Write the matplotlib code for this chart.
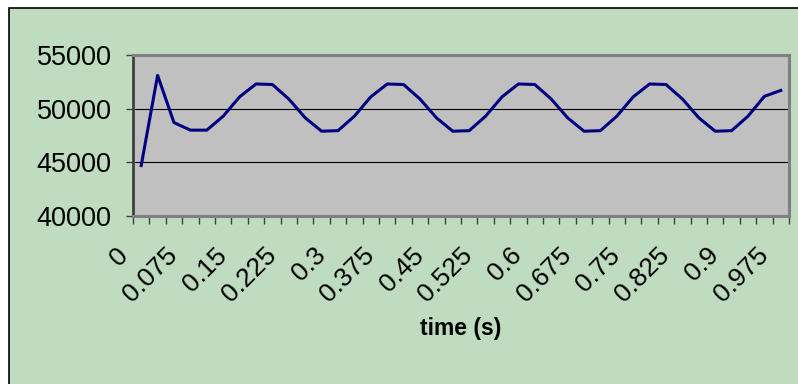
import matplotlib
matplotlib.use('Agg')
import matplotlib.pyplot as plt
import matplotlib.transforms as mtransforms
from matplotlib.patches import Rectangle
import numpy as np

plt.rcParams['font.family'] = ['Liberation Sans', 'DejaVu Sans']

# time categories (s), 0.025 step
time_labels = ['0', '0.075', '0.15', '0.225', '0.3', '0.375', '0.45', '0.525', '0.6',
               '0.675', '0.75', '0.825', '0.9', '0.975']
n_points = 40
values = [44700, 53100, 48700, 48000, 48000, 49300, 51100, 52300, 52250, 50900,
          49150, 47900, 47950, 49300, 51100, 52300, 52250, 50900, 49150, 47900,
          47950, 49300, 51100, 52300, 52250, 50900, 49150, 47900, 47950, 49300,
          51100, 52300, 52250, 50900, 49150, 47900, 47950, 49300, 51150, 51700]
y_ticks = [40000, 45000, 50000, 55000]

dpi = 100
fig = plt.figure(figsize=(7.98, 3.84), dpi=dpi)
fig.patch.set_facecolor('white')

# green chart area with black border
fig.patches.append(Rectangle((9 / 798, -0.05), 1.1, 1 - 8 / 384 + 0.05,
                             transform=fig.transFigure, facecolor='#c0dcc0',
                             edgecolor='black', linewidth=1.2, zorder=-5))

ax = fig.add_axes([133 / 798, 1 - 216 / 384, (789 - 133) / 798, (216 - 55) / 384])
ax.set_facecolor('#c0c0c0')

x = np.arange(n_points)
ax.plot(x, values, color='#000080', linewidth=2.2, zorder=3)

ax.set_xlim(-0.5, n_points - 0.5)
ax.set_ylim(40000, 55000)
ax.set_yticks(y_ticks)
ax.set_yticklabels([str(v) for v in y_ticks], fontsize=19.5)
for v in y_ticks[1:-1]:
    ax.axhline(v, color='black', linewidth=0.8, zorder=2)

# tick marks between categories, labels on every 3rd category
ax.set_xticks(np.arange(-0.5, n_points, 1))
ax.set_xticklabels([])
ax.set_xticks(np.arange(0, n_points, 3), minor=True)
ax.set_xticklabels(time_labels, minor=True, fontsize=19, rotation=45, ha='right', va='top')
ax.tick_params(axis='x', which='major', length=6, width=1, color='#404040', direction='out')
ax.tick_params(axis='x', which='minor', length=0, pad=0)
ax.tick_params(axis='y', length=5, width=1, color='#404040', pad=10.5)

offset = mtransforms.ScaledTranslation(-8 / dpi, -27 / dpi, fig.dpi_scale_trans)
for lbl in ax.get_xticklabels(minor=True):
    lbl.set_transform(lbl.get_transform() + offset)

for side in ['top', 'right', 'bottom']:
    ax.spines[side].set_color('#808080')
    ax.spines[side].set_linewidth(2.2)
ax.spines['left'].set_color('#404040')
ax.spines['left'].set_linewidth(2.0)

fig.text(461 / 798, 1 - 328 / 384, 'time (s)', ha='center', va='center',
         fontsize=16.5, fontweight='bold')

fig.savefig('out.png', dpi=dpi)
